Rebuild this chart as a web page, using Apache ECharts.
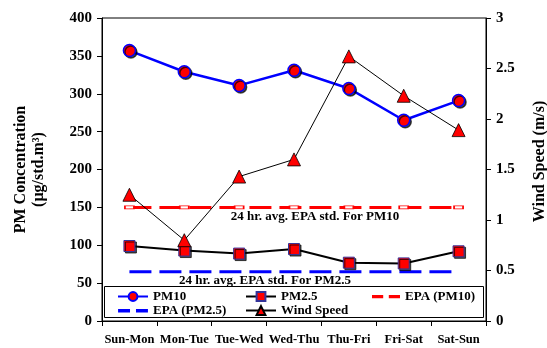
<!DOCTYPE html>
<html><head><meta charset="utf-8">
<script src="https://cdn.jsdelivr.net/npm/echarts@6/dist/echarts.min.js"></script>
<style>html,body{margin:0;padding:0;background:#fff}#c{width:547px;height:348px}</style>
</head><body><div id="c"></div>
<script>
const categories = ['Sun-Mon','Mon-Tue','Tue-Wed','Wed-Thu','Thu-Fri','Fri-Sat','Sat-Sun'];
const pm10 = [357, 329, 311, 331, 307, 265, 291];
const pm25 = [99, 93, 89, 95, 77, 76, 92];
const epaPm10 = [150, 150, 150, 150, 150, 150, 150];
const epaPm25 = [65, 65, 65, 65, 65, 65, 65];
const windSpeed = [1.25, 0.80, 1.43, 1.60, 2.62, 2.23, 1.89];
const leftTicks = {min: 0, max: 400, interval: 50};
const rightTicks = {min: 0, max: 3, interval: 0.5};

const FONT = '"Liberation Serif","Times New Roman",serif';
const chart = echarts.init(document.getElementById('c'));
const shadow = {shadowColor: 'rgba(0,0,0,0.7)', shadowOffsetX: 1.5, shadowOffsetY: 1.5, shadowBlur: 0};
const legendText = {fontFamily: FONT, fontWeight: 'bold', fontSize: 13, color: '#000'};
const dashIcon = 'path://M0,0h0.05v0.05h-0.05z M0,11h0.05v0.05h-0.05z M0,4h12v3.5h-12z M18,4h12v3.5h-12z';
chart.setOption({
  animation: false,
  backgroundColor: '#fff',
  grid: {left: 102, right: 61, top: 18, bottom: 27, show: true, borderColor: '#000', borderWidth: 1, containLabel: false, outerBoundsMode: 'none'},
  xAxis: {
    type: 'category', data: categories, boundaryGap: true,
    axisLine: {lineStyle: {color: '#000', width: 1}},
    axisTick: {show: true, length: 5, lineStyle: {color: '#000'}},
    axisLabel: {fontFamily: FONT, fontWeight: 'bold', fontSize: 12.5, color: '#000', margin: 12, interval: 0},
    splitLine: {show: false}
  },
  yAxis: [{
    type: 'value', min: leftTicks.min, max: leftTicks.max, interval: leftTicks.interval,
    name: 'PM Concentration\n(µg/std.m³)', nameLocation: 'middle', nameGap: 54, nameRotate: 90,
    nameTextStyle: {fontFamily: FONT, fontWeight: 'bold', fontSize: 16, color: '#000', lineHeight: 18},
    axisLine: {show: true, lineStyle: {color: '#000'}},
    axisTick: {show: true, length: 5, lineStyle: {color: '#000'}},
    axisLabel: {fontFamily: FONT, fontWeight: 'bold', fontSize: 15, color: '#000', margin: 10},
    splitLine: {show: false}
  }, {
    type: 'value', min: rightTicks.min, max: rightTicks.max, interval: rightTicks.interval, position: 'right',
    name: 'Wind Speed (m/s)', nameLocation: 'middle', nameGap: 46, nameRotate: 90,
    nameTextStyle: {fontFamily: FONT, fontWeight: 'bold', fontSize: 16, color: '#000', padding: [0, 0, 0, 16]},
    axisLine: {show: true, lineStyle: {color: '#000'}},
    axisTick: {show: true, length: 5, lineStyle: {color: '#000'}},
    axisLabel: {fontFamily: FONT, fontWeight: 'bold', fontSize: 15, color: '#000', margin: 10},
    splitLine: {show: false}
  }],
  legend: [
    {data: ['PM10', {name: 'EPA (PM2.5)', icon: dashIcon, itemStyle: {color: '#0000ff', borderWidth: 0}}],
     orient: 'vertical', left: 112, top: 285, itemGap: 1, itemWidth: 30, itemHeight: 11, textStyle: legendText},
    {data: ['PM2.5', 'Wind Speed'], orient: 'vertical', left: 240, top: 285, itemGap: 1, itemWidth: 30, itemHeight: 11, textStyle: legendText},
    {data: [{name: 'EPA (PM10)', icon: dashIcon, itemStyle: {color: '#ff0000', borderWidth: 0}}],
     orient: 'vertical', left: 367, top: 285, itemGap: 1, itemWidth: 28, itemHeight: 11, textStyle: legendText}
  ],
  graphic: [
    {type: 'rect', left: 104, top: 286, shape: {width: 379, height: 31}, style: {fill: 'transparent', stroke: '#000', lineWidth: 1}, z: 0},
    {type: 'text', x: 315, y: 217, style: {text: '24 hr. avg. EPA std. For PM10', font: 'bold 13px ' + FONT, fill: '#000', align: 'center', verticalAlign: 'middle'}},
    {type: 'text', x: 265, y: 281, style: {text: '24 hr. avg. EPA std. For PM2.5', font: 'bold 13px ' + FONT, fill: '#000', align: 'center', verticalAlign: 'middle'}}
  ],
  series: [
    {name: 'EPA (PM10)', type: 'line', data: epaPm10, yAxisIndex: 0, symbol: 'rect', symbolSize: [9, 3],
     lineStyle: {color: '#ff0000', width: 3, type: [22, 8]}, itemStyle: {color: '#fff', borderColor: '#ff0000', borderWidth: 1}, z: 2},
    {name: 'EPA (PM2.5)', type: 'line', data: epaPm25, yAxisIndex: 0, symbol: 'none',
     lineStyle: {color: '#0000ff', width: 3, type: [22, 8]}, itemStyle: {color: '#0000ff'}, z: 2},
    {name: 'PM10', type: 'line', data: pm10, yAxisIndex: 0, symbol: 'circle', symbolSize: 12,
     lineStyle: {color: '#0000ff', width: 2.5}, itemStyle: Object.assign({color: '#ff0000', borderColor: '#0000ff', borderWidth: 1.5}, shadow), z: 3},
    {name: 'PM2.5', type: 'line', data: pm25, yAxisIndex: 0, symbol: 'rect', symbolSize: 11,
     lineStyle: {color: '#000', width: 2}, itemStyle: Object.assign({color: '#ff0000', borderColor: '#333399', borderWidth: 1}, shadow), z: 3},
    {name: 'Wind Speed', type: 'line', data: windSpeed, yAxisIndex: 1, symbol: 'triangle', symbolSize: 13,
     lineStyle: {color: '#000', width: 1}, itemStyle: {color: '#ff0000', borderColor: '#000', borderWidth: 0.8}, z: 4}
  ]
});
</script></body></html>
